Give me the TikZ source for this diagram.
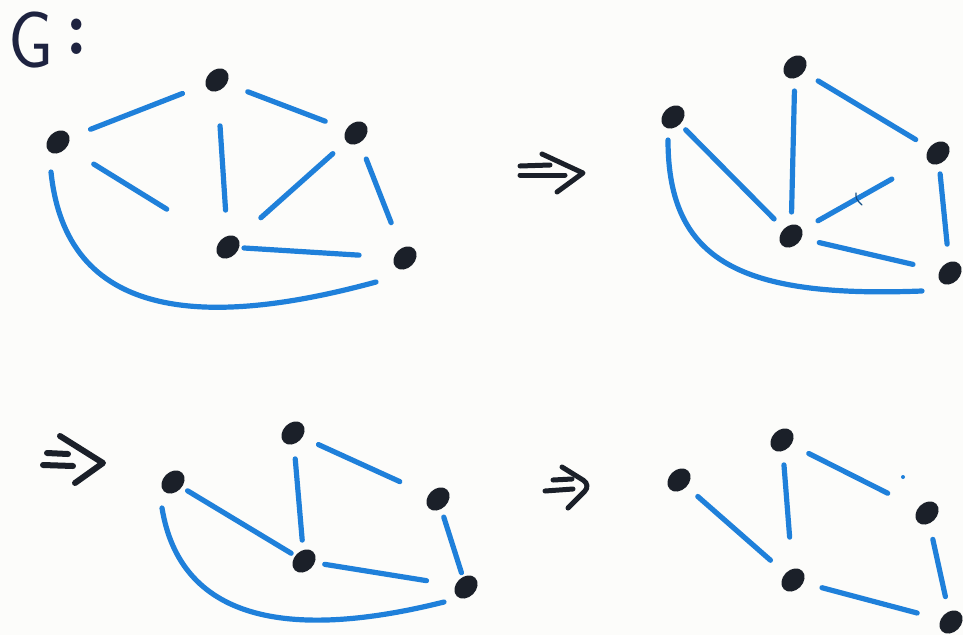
\documentclass[tikz,border=0pt]{standalone}
\usepackage{fontspec}
\usetikzlibrary{shapes.geometric,calc}
\definecolor{ink}{HTML}{1B2029}
\definecolor{gink}{HTML}{1E2340}
\definecolor{pen}{HTML}{1F80DA}
\definecolor{paper}{HTML}{FCFCFA}
\begin{document}
\begin{tikzpicture}[x=1pt,y=-1pt,
  vtx/.style={ellipse,fill=ink,inner sep=0pt,minimum width=26pt,minimum height=20pt,rotate=45},
  edge/.style={draw=pen,line width=5.2pt,line cap=round},
  imp/.style={draw=ink,line width=5pt,line cap=round,line join=round},
  sh/.style 2 args={shorten <=#1pt,shorten >=#2pt}]
\fill[paper] (0,0) rectangle (963,635);
\useasboundingbox (0,0) rectangle (963,635);

% label
\node[text=gink,anchor=base west,font=\sffamily\fontsize{80}{80}\selectfont,xscale=0.9,inner sep=0pt] (glabel) at (8,67)
  {G\hspace{14pt}{\rmfamily\bfseries\fontsize{80}{80}\selectfont\raisebox{13pt}{:}}};

% ---------- graph 1 ----------
\node[vtx] (a1) at (58,142) {};
\node[vtx] (b1) at (217,80) {};
\node[vtx] (c1) at (356,133) {};
\node[vtx] (d1) at (228,247) {};
\node[vtx] (e1) at (405,258) {};
\draw[edge,sh={35}{37}] (a1.center) -- (b1.center);
\draw[edge,sh={33}{33}] (b1.center) -- (c1.center);
\draw[edge,sh={42}{72}] (a1.center) -- (d1.center);
\draw[edge,sh={46}{37}] (b1.center) -- (d1.center);
\draw[edge,sh={31}{44}] (c1.center) -- (d1.center);
\draw[edge,sh={28}{38}] (c1.center) -- (e1.center);
\draw[edge,sh={16}{46}] (d1.center) -- (e1.center);
\draw[edge] ($(a1)+(-7,30)$) .. controls (66,318) and (200,330) .. ($(e1)+(-29,24)$);

% arrow 1
\draw[imp] (520,166) -- (550,165);
\draw[imp] (520,175) -- (565,175);
\draw[imp] (542,154) -- (583,173) -- (557,192);

% ---------- graph 2 ----------
\node[vtx] (a2) at (673,117) {};
\node[vtx] (b2) at (795,67) {};
\node[vtx] (c2) at (938,153) {};
\node[vtx] (d2) at (791,236) {};
\node[vtx] (e2) at (950,273) {};
\draw[edge,sh={18}{24}] (a2.center) -- (d2.center);
\draw[edge,sh={24}{24}] (b2.center) -- (d2.center);
\draw[edge,sh={27}{26}] (b2.center) -- (c2.center);
\draw[edge,sh={31}{53}] (d2.center) -- (c2.center);
\draw[edge,sh={21}{29}] (c2.center) -- (e2.center);
\draw[edge,sh={29}{38}] (d2.center) -- (e2.center);
\draw[edge] ($(a2)+(-5,23)$) .. controls (668,262) and (742,298) .. ($(e2)+(-28,18)$);
\draw[pen!60!black,line width=1.2pt,line cap=round] (856,193) .. controls (856,199) .. (862,205);

% arrow 2
\draw[imp,line width=6pt] (47,453) -- (68,454);
\draw[imp,line width=6pt] (43,465) -- (73,466);
\draw[imp,line width=6pt] (60,436) -- (103,463) -- (75,483);

% ---------- graph 3 ----------
\node[vtx] (a3) at (173,482) {};
\node[vtx] (b3) at (293,433) {};
\node[vtx] (c3) at (438,499) {};
\node[vtx] (d3) at (304,561) {};
\node[vtx] (e3) at (466,587) {};
\draw[edge,sh={17}{15}] (a3.center) -- (d3.center);
\draw[edge,sh={26}{21}] (b3.center) -- (d3.center);
\draw[edge,sh={28}{42}] (b3.center) -- (c3.center);
\draw[edge,sh={19}{15}] (c3.center) -- (e3.center);
\draw[edge,sh={21}{40}] (d3.center) -- (e3.center);
\draw[edge] ($(a3)+(-11,26)$) .. controls (180,618) and (284,642) .. ($(e3)+(-22,15)$);

% arrow 3
\draw[imp] (553,480) -- (572,479);
\draw[imp] (545,491) -- (573,489);
\draw[imp,rounded corners=9pt] (562,467) -- (591,485) -- (568,508);

% ---------- graph 4 ----------
\node[vtx] (a4) at (679,480) {};
\node[vtx] (b4) at (782,440) {};
\node[vtx] (c4) at (927,513) {};
\node[vtx] (d4) at (793,580) {};
\node[vtx] (e4) at (951,622) {};
\draw[edge,sh={25}{30}] (a4.center) -- (d4.center);
\draw[edge,sh={25}{43}] (b4.center) -- (d4.center);
\draw[edge,sh={30}{44}] (b4.center) -- (c4.center);
\draw[edge,sh={27}{26}] (c4.center) -- (e4.center);
\draw[edge,sh={30}{35}] (d4.center) -- (e4.center);
\fill[pen] (903,477) circle (2);
\end{tikzpicture}
\end{document}
